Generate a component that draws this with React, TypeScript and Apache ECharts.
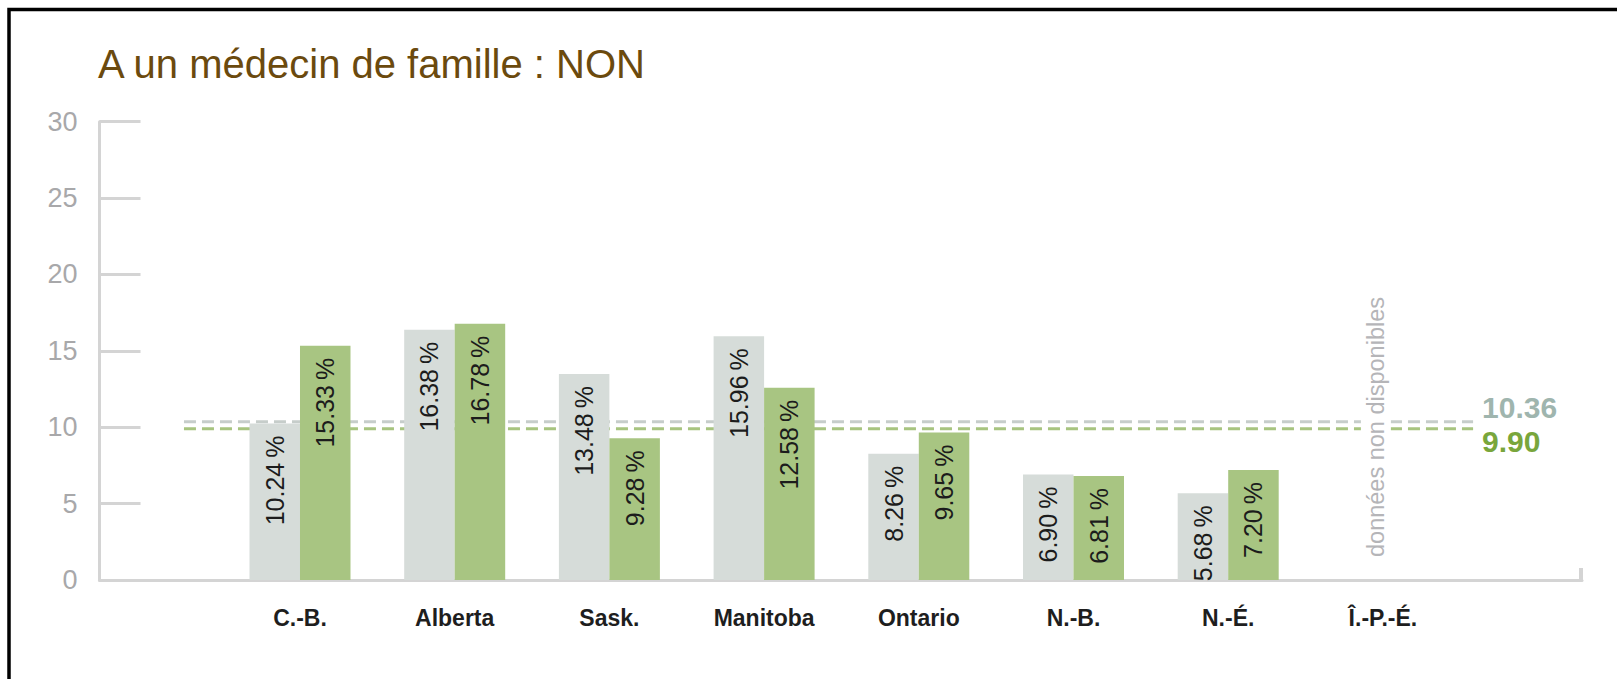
import React, { useEffect, useRef } from 'react';
import * as echarts from 'echarts';

const FONT = "'Liberation Sans', Arial, sans-serif";

const TITLE = 'A un médecin de famille : NON';
const categories = ['C.-B.', 'Alberta', 'Sask.', 'Manitoba', 'Ontario', 'N.-B.', 'N.-É.', 'Î.-P.-É.'];
const seriesGreyName = 'Série 1';
const seriesGreenName = 'Série 2';
const seriesGrey: (number | null)[] = [10.24, 16.38, 13.48, 15.96, 8.26, 6.9, 5.68, null];
const seriesGreen: (number | null)[] = [15.33, 16.78, 9.28, 12.58, 9.65, 6.81, 7.2, null];
const averageGrey = 10.36;
const averageGreen = 9.9;
const noDataIndex = 7;
const noDataText = 'données non disponibles';
const yMin = 0;
const yMax = 30;
const yStep = 5;

// axis extent, in category units (category i sits at value i)
const X_MIN = -1.296;
const X_MAX = 8.287;
const AVG_START = -0.75;
const AVG_END = 7.583;

const GREY = '#d6dcd9';
const GREEN = '#a8c582';
const AVG_GREY_LINE = '#c6cdca';
const AVG_GREEN_LINE = '#a7c47f';

const toPairs = (arr: (number | null)[]) =>
  arr.map((v, i) => (v == null ? null : [i, v])).filter((d) => d !== null) as number[][];

export default function App() {
  const ref = useRef<HTMLDivElement>(null);

  useEffect(() => {
    if (!ref.current) return;
    const chart = echarts.init(ref.current, undefined, { renderer: 'svg' });

    const barLabel = {
      show: true,
      position: 'insideTop',
      distance: 12,
      rotate: 90,
      align: 'right',
      verticalAlign: 'middle',
      fontSize: 25,
      fontFamily: FONT,
      color: '#1c1c1c',
      formatter: (p: any) => (p.value[1] as number).toFixed(2) + '\u2009%',
    };

    const avgSeries = (name: string, value: number, lineColor: string, textColor: string, dy: number) => ({
      name,
      type: 'line',
      z: 1,
      silent: true,
      symbol: 'none',
      data: [
        [AVG_START, value],
        [AVG_END, value],
      ],
      lineStyle: { color: lineColor, width: 3, type: [12, 6] },
      markPoint: {
        silent: true,
        symbol: 'circle',
        symbolSize: 0,
        data: [
          {
            coord: [AVG_END, value],
            label: {
              show: true,
              position: 'right',
              distance: 9,
              offset: [0, dy],
              formatter: value.toFixed(2),
              fontSize: 30,
              fontWeight: 'bold',
              fontFamily: FONT,
              color: textColor,
            },
          },
        ],
      },
    });

    const frame = {
      type: 'rect',
      id: 'frame',
      silent: true,
      shape: { x: 9, y: 9.5, width: 2000, height: 2000 },
      style: { fill: 'none', stroke: '#000000', lineWidth: 3.5 },
    };

    const option: any = {
      animation: false,
      backgroundColor: '#ffffff',
      title: {
        text: TITLE,
        left: 98,
        top: 44,
        padding: 0,
        textStyle: { fontSize: 40, fontWeight: 'normal', color: '#6b4a0e', fontFamily: FONT },
      },
      graphic: [frame],
      grid: { left: 99.5, right: 35, top: 121.7, bottom: 99, containLabel: false },
      xAxis: {
        type: 'value',
        min: X_MIN,
        max: X_MAX,
        splitLine: { show: false },
        axisLine: { show: true, onZero: false, lineStyle: { color: '#d4d4d4', width: 3 } },
        axisTick: {
          show: true,
          customValues: [X_MAX - 0.01],
          inside: true,
          length: 12,
          lineStyle: { color: '#d4d4d4', width: 4 },
        },
        axisLabel: {
          customValues: categories.map((_, i) => i),
          formatter: (v: number) => categories[Math.round(v)] ?? '',
          fontSize: 23,
          fontWeight: 'bold',
          fontFamily: FONT,
          color: '#1e1e1e',
          margin: 26,
        },
      },
      yAxis: {
        type: 'value',
        min: yMin,
        max: yMax,
        interval: yStep,
        splitLine: { show: false },
        axisLine: { show: true, onZero: false, lineStyle: { color: '#d4d4d4', width: 3 } },
        axisTick: { show: true, inside: true, length: 41, lineStyle: { color: '#d4d4d4', width: 3 } },
        axisLabel: { color: '#a8a8aa', fontSize: 27, fontFamily: FONT, margin: 22 },
      },
      series: [
        avgSeries('Moyenne 1', averageGrey, AVG_GREY_LINE, '#9fb5ae', -14),
        avgSeries('Moyenne 2', averageGreen, AVG_GREEN_LINE, '#79a63c', 13),
        {
          name: seriesGreyName,
          type: 'bar',
          z: 2,
          data: toPairs(seriesGrey),
          barWidth: 50.5,
          barGap: '0%',
          itemStyle: { color: GREY },
          label: barLabel,
        },
        {
          name: seriesGreenName,
          type: 'bar',
          z: 2,
          data: toPairs(seriesGreen),
          barWidth: 50.5,
          barGap: '0%',
          itemStyle: { color: GREEN },
          label: barLabel,
        },
      ],
    };

    chart.setOption(option);

    // "no data" note, placed at the Î.-P.-É. category through the axis scale
    const [px, py] = chart.convertToPixel({ gridIndex: 0 }, [noDataIndex, 0]) as number[];
    chart.setOption({
      graphic: [
        frame,
        {
          type: 'text',
          id: 'nodata',
          silent: true,
          z: 100,
          x: px - 7,
          y: py - 23,
          rotation: Math.PI / 2,
          style: {
            text: noDataText,
            fill: '#b5b5b8',
            font: `23.5px ${FONT}`,
            align: 'left',
            verticalAlign: 'middle',
            backgroundColor: '#ffffff',
            padding: [3, 0],
          },
        },
      ],
    });

    return () => chart.dispose();
  }, []);

  return (
    <div
      ref={ref}
      style={{ position: 'fixed', left: 0, top: 0, width: 1617, height: 679, background: '#fff' }}
    />
  );
}
